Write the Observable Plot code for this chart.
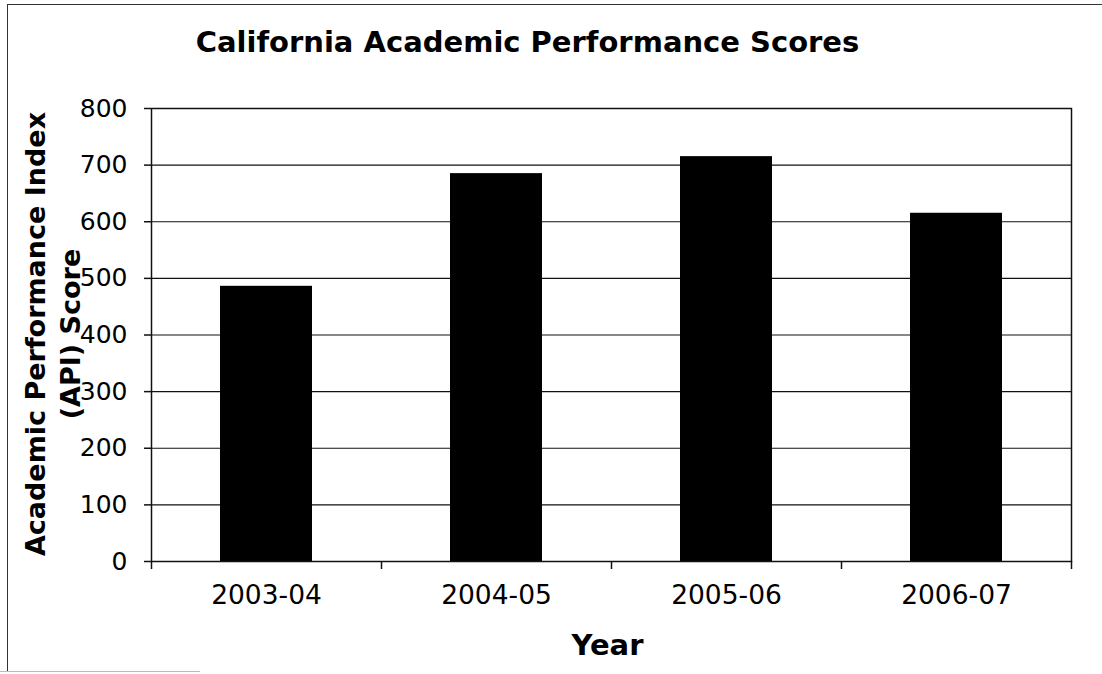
<!DOCTYPE html>
<html>
<head>
<meta charset="utf-8">
<script src="https://cdn.jsdelivr.net/npm/d3@7"></script>
<script src="https://cdn.jsdelivr.net/npm/@observablehq/plot@0.6"></script>
<style>
  html, body { margin: 0; padding: 0; background: #fff; }
  #wrap { position: relative; width: 1102px; height: 674px; overflow: hidden; }
  #edgeTop { position: absolute; left: 7px; top: 4px; width: 1095px; height: 0; border-top: 1.5px solid #333; }
  #edgeLeft { position: absolute; left: 7px; top: 4px; width: 0; height: 668px; border-left: 1.5px solid #333; }
  #edgeBottom { position: absolute; left: 0px; top: 671px; width: 200px; height: 0; border-top: 1px solid #bbb; }
  #title { position: absolute; left: 0; top: 24px; width: 1055px; text-align: center; line-height: 36px;
           font-family: "DejaVu Sans", Verdana, sans-serif; font-weight: bold; font-size: 29px; color: #000; }
  #chart { position: absolute; left: 0; top: 0; }
</style>
</head>
<body>
<div id="wrap">
  <div id="chart"></div>
  <div id="title">California Academic Performance Scores</div>
  <div id="edgeTop"></div>
  <div id="edgeLeft"></div>
  <div id="edgeBottom"></div>
</div>
<script>
// Data
const years = ["2003-04", "2004-05", "2005-06", "2006-07"];
const apiScores = [486, 685, 715, 615];
const yTicks = [0, 100, 200, 300, 400, 500, 600, 700, 800];
const xLabel = "Year";
const yLabel = "Academic Performance Index\n(API) Score";

const data = years.map((y, i) => ({year: y, score: apiScores[i]}));

const W = 1102, H = 674;
const mL = 151, mR = 31, mT = 108, mB = 113;
const padIn = 0.6, padOut = 0.3;
const step = (W - mL - mR) / (years.length - padIn + 2 * padOut);

const font = "DejaVu Sans, Verdana, sans-serif";

const chart = Plot.plot({
  width: W,
  height: H,
  marginLeft: mL,
  marginRight: mR,
  marginTop: mT,
  marginBottom: mB,
  style: {fontFamily: font, background: "white", color: "black"},
  x: {domain: years, paddingInner: padIn, paddingOuter: padOut, label: null},
  y: {domain: [0, 800], label: null},
  marks: [
    Plot.gridY(yTicks, {stroke: "#111", strokeOpacity: 1, strokeWidth: 1.2}),
    Plot.barY(data, {x: "year", y: "score", fill: "black"}),
    Plot.frame({stroke: "#111", strokeWidth: 1.5}),
    Plot.axisY(yTicks, {tickSize: 7, tickPadding: 17, fontSize: 25, stroke: "#111", strokeWidth: 1.5, label: null}),
    Plot.axisX({tickSize: 0, tickPadding: 24, fontSize: 26.5, label: null}),
    // category boundary ticks (Excel style)
    Plot.axisX({tickSize: 8, dx: -step / 2, text: null, label: null, stroke: "#111", strokeWidth: 1.5}),
    Plot.axisX([years[years.length - 1]], {tickSize: 8, dx: step / 2, text: null, label: null, stroke: "#111", strokeWidth: 1.5}),
    Plot.text([xLabel], {frameAnchor: "bottom", dx: -4, dy: 84, fontSize: 29, fontWeight: "bold", lineAnchor: "middle"}),
    Plot.text([yLabel], {frameAnchor: "left", textAnchor: "middle", rotate: -90, dx: -100, dy: -1, fontSize: 27, fontWeight: "bold", lineAnchor: "middle", lineHeight: 1.3})
  ]
});
document.getElementById("chart").appendChild(chart);
</script>
</body>
</html>
